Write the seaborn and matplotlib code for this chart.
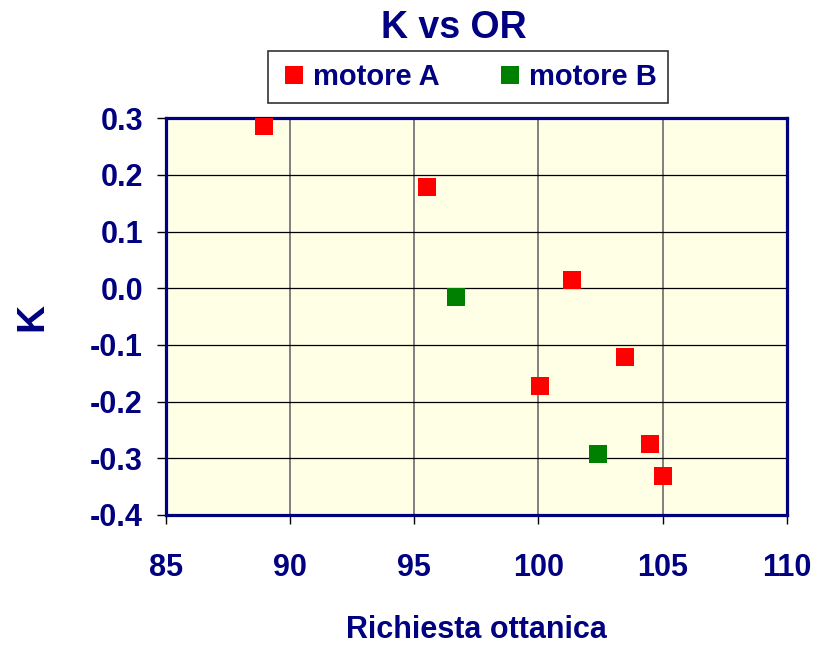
import pandas as pd
import seaborn as sns
import matplotlib.pyplot as plt

# === Dati ===
or_motore_a = [88.96, 95.52, 101.36, 103.48, 100.08, 104.48, 105.0]
k_motore_a = [0.286, 0.178, 0.014, -0.122, -0.173, -0.275, -0.331]
or_motore_b = [96.68, 102.4]
k_motore_b = [-0.016, -0.293]
serie = ["motore A", "motore B"]
x_ticks = [85, 90, 95, 100, 105, 110]
y_ticks = [-0.4, -0.3, -0.2, -0.1, 0.0, 0.1, 0.2, 0.3]

df = pd.DataFrame({
    "OR": or_motore_a + or_motore_b,
    "K": k_motore_a + k_motore_b,
    "motore": [serie[0]] * len(or_motore_a) + [serie[1]] * len(or_motore_b),
})

navy = "#000080"
sns.set_style("white")
plt.rcParams["font.family"] = ["Liberation Sans", "DejaVu Sans"]
plt.rcParams["font.weight"] = "bold"

fig = plt.figure(figsize=(8.17, 6.46), dpi=100)
ax = fig.add_axes([0.203, 0.203, 0.760, 0.614])
ax.set_facecolor("#FFFFE6")

sns.scatterplot(data=df, x="OR", y="K", hue="motore", hue_order=serie,
                palette={"motore A": "#FF0000", "motore B": "#008000"},
                marker="s", s=170, linewidth=0, ax=ax, zorder=3)

ax.set_xlim(85, 110)
ax.set_ylim(-0.4, 0.3)
ax.set_xticks(x_ticks)
ax.set_xticklabels([str(v) for v in x_ticks])
ax.set_yticks(y_ticks)
ax.set_yticklabels([f"{v:.1f}" for v in y_ticks])

# griglia: verticali grigie, orizzontali nere
ax.xaxis.grid(True, color="#808080", linewidth=1.4)
ax.yaxis.grid(True, color="black", linewidth=0.9)
ax.set_axisbelow(True)
for sp in ax.spines.values():
    sp.set_visible(True)
    sp.set_color(navy)
    sp.set_linewidth(2.3)

ax.tick_params(axis="both", colors="black", length=6.5, width=1,
               direction="out", left=True, bottom=True)
ax.tick_params(axis="y", labelsize=22, pad=10, labelcolor=navy)
ax.tick_params(axis="x", labelsize=22, pad=21, labelcolor=navy)
for lbl in ax.get_xticklabels() + ax.get_yticklabels():
    lbl.set_fontweight("bold")

ax.set_xlabel("Richiesta ottanica", fontsize=22, fontweight="bold", color=navy, va="center")
ax.set_ylabel("K", fontsize=28, fontweight="bold", color=navy, va="center")
ax.xaxis.set_label_coords(0.5, -0.29)
ax.yaxis.set_label_coords(-0.215, 0.5)

fig.text(0.556, 0.985, "K vs OR", ha="center", va="top", fontsize=27,
         fontweight="bold", color=navy)

leg = ax.legend(loc="center", bbox_to_anchor=(0.573, 0.881), bbox_transform=fig.transFigure,
                ncol=2, frameon=True, fancybox=False, edgecolor="black", fontsize=21,
                handletextpad=0.15, columnspacing=1.9, handlelength=1.0, borderpad=0.4)
leg.get_frame().set_linewidth(1.2)
for t in leg.get_texts():
    t.set_color(navy)
    t.set_fontweight("bold")

fig.savefig("out.png", dpi=100)
